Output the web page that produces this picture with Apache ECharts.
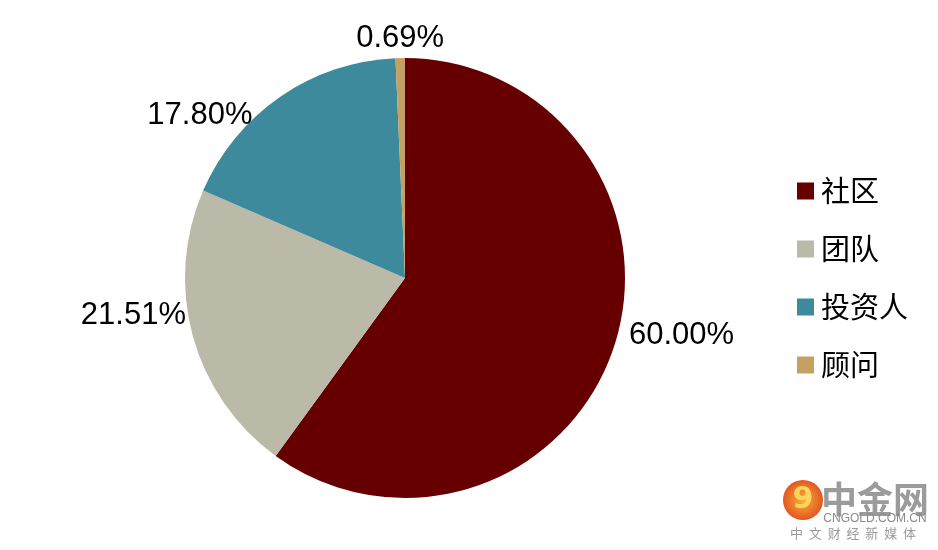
<!DOCTYPE html>
<html><head><meta charset="utf-8">
<script src="https://cdn.jsdelivr.net/npm/echarts@6/dist/echarts.min.js"></script>
<style>html,body{margin:0;padding:0;background:#fff}#c{width:938px;height:550px}</style>
</head><body><div id="c"></div>
<script>
const categories = ['社区', '团队', '投资人', '顾问'];
const values = [60.00, 21.51, 17.80, 0.69];
const colors = ['#660000', '#BBB9A8', '#3D8A9C', '#C4A062'];

const labelShift = [[5, -12], [3, -22], [-20, 23], [5, -15]];

const chart = echarts.init(document.getElementById('c'));
chart.setOption({
  animation: false,
  backgroundColor: '#fff',
  color: colors,
  legend: {
    orient: 'vertical',
    left: 792, top: 171,
    itemWidth: 17, itemHeight: 17, itemGap: 28,
    icon: 'rect',
    textStyle: { fontFamily: 'Noto Sans CJK SC', fontSize: 29, color: '#000', lineHeight: 30, padding: [0,0,0,2] },
    data: categories
  },
  graphic: [
    { type: 'circle', shape: { cx: 803, cy: 500, r: 20 }, style: { fill: new echarts.graphic.RadialGradient(0.5,0.5,0.6,[{offset:0,color:'#F6B23A'},{offset:1,color:'#E0441C'}]) } },
    { type: 'text', style: { x: 803, y: 500, text: '9', fill: '#FCD55A', font: 'bold 30px "DejaVu Sans"', align: 'center', verticalAlign: 'middle' } },
    { type: 'text', style: { x: 875, y: 499, text: '中金网', fill: '#9b9b9b', font: 'bold 36px "Noto Sans CJK SC"', align: 'center', verticalAlign: 'middle' } },
    { type: 'text', style: { x: 875, y: 519, text: 'CNGOLD.COM.CN', fill: '#8a8a8a', font: '12px "Liberation Sans"', align: 'center', verticalAlign: 'middle' } },
    { type: 'text', style: { x: 853, y: 533, text: '中  文  财  经  新  媒  体', fill: '#9b9b9b', font: '13px "Noto Sans CJK SC"', align: 'center', verticalAlign: 'middle' } }
  ],
  series: [{
    type: 'pie',
    center: [405, 278],
    radius: [0, 220],
    startAngle: 90,
    clockwise: true,
    avoidLabelOverlap: false,
    itemStyle: { borderWidth: 0 },
    label: {
      show: true, position: 'outside',
      formatter: p => p.value.toFixed(2) + '%',
      fontFamily: 'Liberation Sans', fontSize: 31, color: '#000'
    },
    labelLine: { show: false, length: 5, length2: 0 },
    labelLayout: function (p) {
      const s = labelShift[p.dataIndex];
      const o = { dx: s[0], dy: s[1] };
      if (p.dataIndex === 3) o.align = 'center';
      return o;
    },
    data: categories.map((n, i) => ({ name: n, value: values[i] }))
  }]
});
</script></body></html>
